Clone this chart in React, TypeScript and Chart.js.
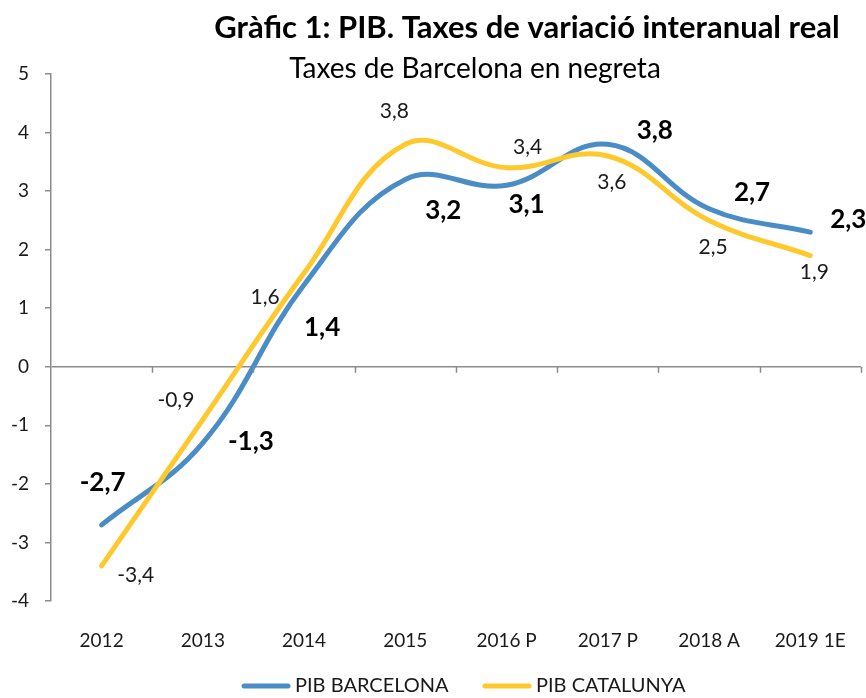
import React, { useEffect, useRef } from 'react';
import { Chart, registerables } from 'chart.js';

Chart.register(...registerables);

const categories = ['2012', '2013', '2014', '2015', '2016 P', '2017 P', '2018 A', '2019 1E'];
const barcelona = [-2.7, -1.3, 1.4, 3.2, 3.1, 3.8, 2.7, 2.3];
const catalunya = [-3.4, -0.9, 1.6, 3.8, 3.4, 3.6, 2.5, 1.9];
const yMin = -4;
const yMax = 5;
const yStep = 1;
const titleText = 'Gràfic 1: PIB. Taxes de variació interanual real';
const subtitleText = 'Taxes de Barcelona en negreta';
const seriesNames = ['PIB BARCELONA', 'PIB CATALUNYA'];

// label placement offsets (px) relative to each point
const bcnLabelOffsets = [[1, -42], [48, -1], [18, 43], [38, 31], [20, 19], [47, -14], [43, -16], [38, -12]];
const catLabelOffsets = [[34, 9], [-27, -19], [-39, 24], [-11, -33], [21, -20], [4, 26], [4, 27], [4, 17]];

const BLUE = '#4A8DC6';
const YELLOW = '#FFC92E';
const AXIS = '#8C8C8C';
const TEXT = '#1A1A1A';
const FONT = 'Lato, Carlito, Calibri, sans-serif';

const fmt = (v: number) => v.toFixed(1).replace('.', ',');

const decorPlugin = {
  id: 'decor',
  afterDatasetsDraw(chart: any) {
    const ctx = chart.ctx;
    ctx.save();
    ctx.textAlign = 'center';
    ctx.textBaseline = 'middle';
    ctx.fillStyle = '#000';
    const m0 = chart.getDatasetMeta(0);
    ctx.font = `bold 26px ${FONT}`;
    m0.data.forEach((p: any, i: number) => {
      const [dx, dy] = bcnLabelOffsets[i];
      ctx.fillText(fmt(barcelona[i]), p.x + dx, p.y + dy);
    });
    const m1 = chart.getDatasetMeta(1);
    ctx.font = `21px ${FONT}`;
    ctx.fillStyle = TEXT;
    m1.data.forEach((p: any, i: number) => {
      const [dx, dy] = catLabelOffsets[i];
      ctx.fillText(fmt(catalunya[i]), p.x + dx, p.y + dy);
    });
    ctx.restore();
  },
  afterDraw(chart: any) {
    const ctx = chart.ctx;
    const xs = chart.scales.x;
    const ys = chart.scales.y;
    const y0 = ys.getPixelForValue(0);
    ctx.save();
    ctx.strokeStyle = AXIS;
    ctx.lineWidth = 1.5;
    const n = categories.length;
    const w = (xs.right - xs.left) / n;
    for (let i = 1; i <= n; i++) {
      const x = Math.round(xs.left + i * w) + 0.5;
      ctx.beginPath();
      ctx.moveTo(x, y0);
      ctx.lineTo(x, y0 + 6);
      ctx.stroke();
    }
    ctx.fillStyle = '#000';
    ctx.textAlign = 'center';
    ctx.textBaseline = 'alphabetic';
    ctx.font = `bold 31px ${FONT}`;
    ctx.fillText(titleText, 527, 38);
    ctx.font = `28px ${FONT}`;
    ctx.fillText(subtitleText, 475, 78);
    const items = [
      { text: seriesNames[0], color: BLUE, x: 242 },
      { text: seriesNames[1], color: YELLOW, x: 483 },
    ];
    ctx.font = `20px ${FONT}`;
    ctx.textAlign = 'left';
    ctx.textBaseline = 'middle';
    ctx.lineCap = 'round';
    items.forEach((it) => {
      ctx.strokeStyle = it.color;
      ctx.lineWidth = 5;
      ctx.beginPath();
      ctx.moveTo(it.x + 2, 686);
      ctx.lineTo(it.x + 46, 686);
      ctx.stroke();
      ctx.fillStyle = TEXT;
      ctx.fillText(it.text, it.x + 53, 686);
    });
    ctx.restore();
  },
};

export default function App() {
  const ref = useRef<HTMLCanvasElement | null>(null);
  useEffect(() => {
    if (!ref.current) return;
    const chart = new Chart(ref.current, {
      type: 'line',
      data: {
        labels: categories,
        datasets: [
          {
            label: seriesNames[0],
            data: barcelona,
            borderColor: BLUE,
            backgroundColor: BLUE,
            borderWidth: 5,
            pointRadius: 0,
            tension: 0.4,
            borderCapStyle: 'round',
            order: 1,
          },
          {
            label: seriesNames[1],
            data: catalunya,
            borderColor: YELLOW,
            backgroundColor: YELLOW,
            borderWidth: 5,
            pointRadius: 0,
            tension: 0.4,
            borderCapStyle: 'round',
            order: 0,
          },
        ],
      },
      options: {
        animation: false,
        responsive: false,
        maintainAspectRatio: false,
        layout: { padding: { top: 74, right: 4, bottom: 37, left: 0 } },
        plugins: {
          legend: { display: false },
          title: { display: false },
          tooltip: { enabled: false },
        },
        scales: {
          x: {
            offset: true,
            grid: { display: false },
            border: { display: false },
            ticks: {
              color: TEXT,
              font: { family: FONT, size: 19 },
              padding: 20,
              maxRotation: 0,
              autoSkip: false,
            },
            afterFit: (s: any) => { s.height = 60; },
          },
          y: {
            min: yMin,
            max: yMax,
            ticks: {
              stepSize: yStep,
              color: TEXT,
              font: { family: FONT, size: 19 },
              padding: 16,
            },
            grid: {
              color: (c: any) => (c.tick && c.tick.value === 0 ? AXIS : 'rgba(0,0,0,0)'),
              lineWidth: 1.5,
              tickColor: AXIS,
              tickLength: 6,
              drawTicks: true,
            },
            border: { color: AXIS, width: 1.5 },
            afterFit: (s: any) => { s.width = 51; },
          },
        },
      },
      plugins: [decorPlugin],
    });
    return () => chart.destroy();
  }, []);
  return (
    <div style={{ position: 'fixed', left: 0, top: 0, width: 866, height: 698, background: '#fff' }}>
      <canvas ref={ref} width={866} height={698} style={{ width: 866, height: 698 }} />
    </div>
  );
}
